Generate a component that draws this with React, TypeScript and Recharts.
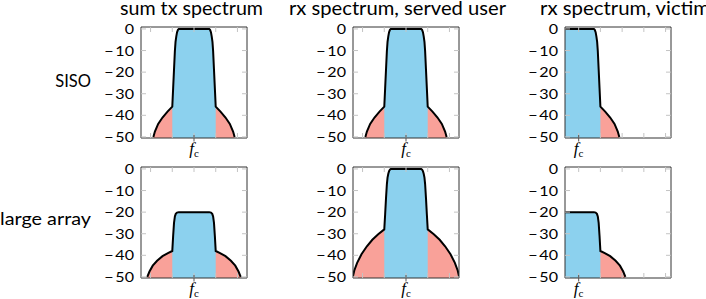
import React from 'react';
import { ComposedChart, Area, Line, XAxis, YAxis } from 'recharts';

// frequency offset in channel widths (fc = 0) and power level in dB
const sisoFreq = [-1.87, -1.8, -1.65, -1.45, -1.22, -1.0, -0.96, -0.92, -0.88, -0.85, -0.815, -0.78, -0.74, -0.7,
  0.7, 0.74, 0.78, 0.815, 0.85, 0.88, 0.92, 0.96, 1.0, 1.22, 1.45, 1.65, 1.8, 1.87];
const sisoLevel = [-50, -47.5, -44, -41, -38.3, -36, -27.4, -18.8, -10.2, -6, -3.4, -1.5, -0.4, 0,
  0, -0.4, -1.5, -3.4, -6, -10.2, -18.8, -27.4, -36, -38.3, -41, -44, -47.5, -50];

const arrayTxFreq = [-2.15, -2.05, -1.9, -1.7, -1.45, -1.2, -1.0, -0.96, -0.92, -0.88, -0.84, -0.78, -0.7,
  0.7, 0.78, 0.84, 0.88, 0.92, 0.96, 1.0, 1.2, 1.45, 1.7, 1.9, 2.05, 2.15];
const arrayTxLevel = [-50, -47.5, -44.8, -42.5, -40.4, -39, -38, -31, -25, -22, -20.8, -20.2, -20,
  -20, -20.2, -20.8, -22, -25, -31, -38, -39, -40.4, -42.5, -44.8, -47.5, -50];

const arrayRxFreq = [-2.45, -2.38, -2.25, -2.05, -1.8, -1.55, -1.28, -1.0, -0.96, -0.92, -0.88, -0.85, -0.815, -0.78, -0.74, -0.7,
  0.7, 0.74, 0.78, 0.815, 0.85, 0.88, 0.92, 0.96, 1.0, 1.28, 1.55, 1.8, 2.05, 2.25, 2.38, 2.45];
const arrayRxLevel = [-50, -47, -43.5, -39.5, -35.8, -32.8, -30.2, -28, -21, -13.5, -7, -4, -2.2, -1, -0.3, 0,
  0, -0.3, -1, -2.2, -4, -7, -13.5, -21, -28, -30.2, -32.8, -35.8, -39.5, -43.5, -47, -50];

const columnTitles = ['sum tx spectrum', 'rx spectrum, served user', 'rx spectrum, victim'];
const rowTitles = ['SISO', 'large array'];

const yTicks = [0, -10, -20, -30, -40, -50];
const yTickLabels = ['0', '10', '20', '30', '40', '50'];
const centeredTicks = [-2, -1, 0, 1, 2];
const victimTicks = [0, 1, 2, 3, 4];
const bandEdge = 1;

const BLUE = '#8CD1EE';
const RED = '#F9A199';
const GRAY = '#c4c4c4';
const FONT = 'Lato, sans-serif';

const W = 166;
const H = 141;
const colLeft = [91, 303, 515];
const rowTop = [22, 162];
const Y_DOMAIN: [number, number] = [-50.5, 0.9];

// title placement (left x, rendered width)
const titleLeft = [120, 289, 540];
const titleWidth = [143, 217, 170];

function buildRows(freq: number[], level: number[]) {
  return freq.map((f, i) => ({
    f,
    all: level[i],
    band: Math.abs(f) <= bandEdge ? level[i] : null,
  }));
}

function BottomTick(props: any) {
  const { x, y, payload } = props;
  return (
    <g>
      <line x1={x} x2={x} y1={y} y2={y - 5} stroke={GRAY} />
      {payload.value === 0 && (
        <g>
          <line x1={x} x2={x} y1={y - 3} y2={y + 3.5} stroke="#555" />
          <text x={x} y={y + 16} textAnchor="middle" fill="#000">
            <tspan fontFamily="'Liberation Serif', serif" fontStyle="italic" fontSize={17}>f</tspan>
            <tspan fontFamily="'Liberation Serif', serif" fontSize={11} dy={3}>c</tspan>
          </text>
        </g>
      )}
    </g>
  );
}

function TopTick(props: any) {
  const { x, y } = props;
  return <line x1={x} x2={x} y1={y} y2={y + 5} stroke={GRAY} />;
}

function LeftTick(props: any) {
  const { x, y, payload } = props;
  const idx = yTicks.indexOf(payload.value);
  const neg = payload.value < 0;
  return (
    <g>
      <line x1={x} x2={x + 5} y1={y} y2={y} stroke={GRAY} />
      <text
        transform={`translate(${x - 7},${y}) scale(1.15,1)`}
        dy="0.36em"
        textAnchor="end"
        fontSize={14}
        fontFamily={FONT}
        fill="#000"
      >
        {neg && <tspan>{'\u2212'}</tspan>}
        <tspan dx={neg ? 1.5 : 0}>{yTickLabels[idx]}</tspan>
      </text>
    </g>
  );
}

function RightTick(props: any) {
  const { x, y } = props;
  return <line x1={x} x2={x - 5} y1={y} y2={y} stroke={GRAY} />;
}

interface PanelProps {
  freq: number[];
  level: number[];
  xDomain: [number, number];
  xTicks: number[];
  left: number;
  top: number;
}

function Panel({ freq, level, xDomain, xTicks, left, top }: PanelProps) {
  const rows = buildRows(freq, level);
  return (
    <div style={{ position: 'absolute', left, top, width: W, height: H }}>
      <ComposedChart width={W} height={H} data={rows} margin={{ top: 0, right: 0, bottom: 0, left: 0 }}>
        <XAxis
          dataKey="f"
          type="number"
          domain={xDomain}
          allowDataOverflow
          ticks={xTicks}
          interval={0}
          height={25}
          tickSize={0}
          tickMargin={0}
          tickLine={false}
          tick={<BottomTick />}
          axisLine={{ stroke: '#333' }}
        />
        <XAxis
          xAxisId="top"
          orientation="top"
          dataKey="f"
          type="number"
          domain={xDomain}
          allowDataOverflow
          ticks={xTicks}
          interval={0}
          height={5}
          tickSize={0}
          tickMargin={0}
          tickLine={false}
          tick={<TopTick />}
          axisLine={{ stroke: '#333' }}
        />
        <YAxis
          type="number"
          domain={Y_DOMAIN}
          allowDataOverflow
          ticks={yTicks}
          interval={0}
          width={50}
          tickSize={0}
          tickMargin={0}
          tickLine={false}
          tick={<LeftTick />}
          axisLine={{ stroke: '#333' }}
        />
        <YAxis
          yAxisId="r"
          orientation="right"
          type="number"
          domain={Y_DOMAIN}
          allowDataOverflow
          ticks={yTicks}
          interval={0}
          width={10}
          tickSize={0}
          tickMargin={0}
          tickLine={false}
          tick={<RightTick />}
          axisLine={{ stroke: '#333' }}
        />
        <Area type="linear" dataKey="all" stroke="none" fill={RED} fillOpacity={1} baseValue="dataMin" isAnimationActive={false} />
        <Area type="linear" dataKey="band" stroke="none" fill={BLUE} fillOpacity={1} baseValue="dataMin" isAnimationActive={false} />
        <Line type="linear" dataKey="all" stroke="#000" strokeWidth={2} dot={false} activeDot={false} isAnimationActive={false} />
      </ComposedChart>
    </div>
  );
}

export default function App() {
  const centerDomain: [number, number] = [-2.44, 2.44];
  const victimDomain: [number, number] = [-0.63, 4.25];
  const shapes = [
    [
      { freq: sisoFreq, level: sisoLevel },
      { freq: sisoFreq, level: sisoLevel },
      { freq: sisoFreq, level: sisoLevel },
    ],
    [
      { freq: arrayTxFreq, level: arrayTxLevel },
      { freq: arrayRxFreq, level: arrayRxLevel },
      { freq: arrayTxFreq, level: arrayTxLevel },
    ],
  ];
  return (
    <div style={{ position: 'absolute', left: 0, top: 0, width: 706, height: 299, overflow: 'hidden', background: '#fff' }}>
      {shapes.map((row, r) =>
        row.map((s, c) => (
          <Panel
            key={`${r}-${c}`}
            freq={s.freq}
            level={s.level}
            xDomain={c === 2 ? victimDomain : centerDomain}
            xTicks={c === 2 ? victimTicks : centeredTicks}
            left={colLeft[c]}
            top={rowTop[r]}
          />
        ))
      )}
      <svg width={706} height={299} style={{ position: 'absolute', left: 0, top: 0, pointerEvents: 'none' }}>
        {columnTitles.map((t, c) => (
          <text
            key={t}
            x={titleLeft[c]}
            y={15}
            textLength={titleWidth[c]}
            lengthAdjust="spacingAndGlyphs"
            fontSize={18.5}
            fontFamily={FONT}
            fill="#000"
          >
            {t}
          </text>
        ))}
        <text x={91} y={rowTop[0] + 65} textAnchor="end" fontSize={16.5} fontFamily={FONT} fill="#000">
          {rowTitles[0]}
        </text>
        <text x={91} y={rowTop[1] + 63} textAnchor="end" fontSize={18} fontFamily={FONT} fill="#000" transform={`translate(91,0) scale(1.1,1) translate(-91,0)`}>
          {rowTitles[1]}
        </text>
      </svg>
    </div>
  );
}
